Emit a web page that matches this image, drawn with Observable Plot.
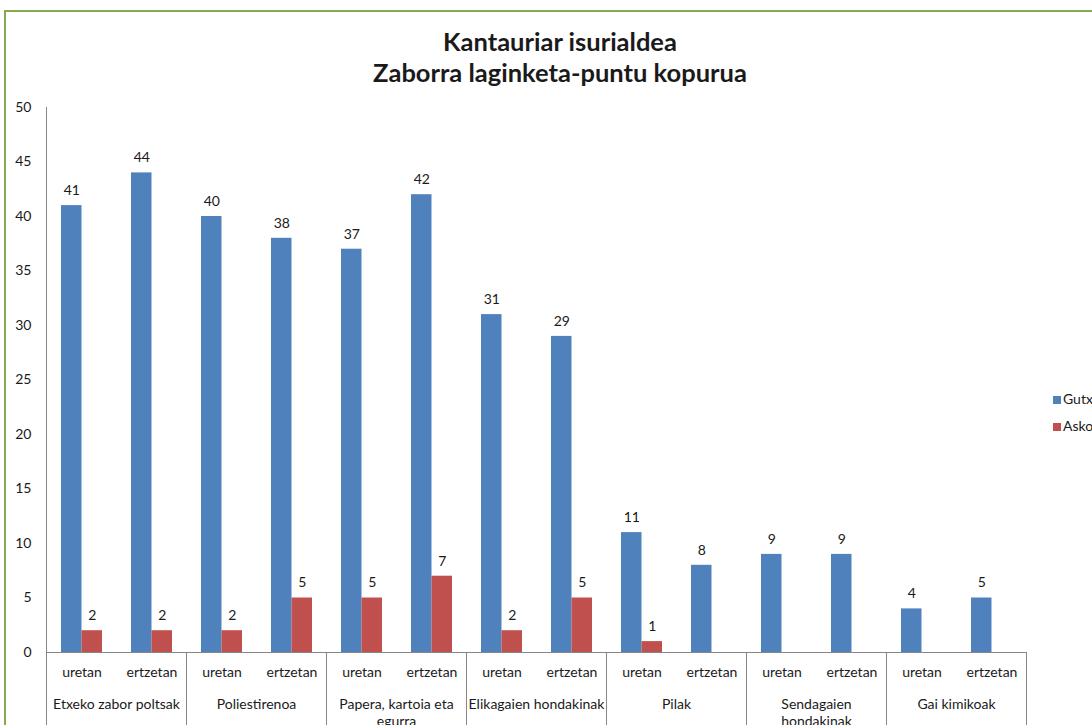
<!DOCTYPE html>
<html>
<head>
<meta charset="utf-8">
<script src="https://cdn.jsdelivr.net/npm/d3@7"></script>
<script src="https://cdn.jsdelivr.net/npm/@observablehq/plot@0.6"></script>
<style>
  html, body { margin: 0; padding: 0; background: #fff; }
  #wrap { position: relative; width: 1092px; height: 725px; overflow: hidden; background: #fff; font-family: Lato, sans-serif; color: #1a1a1a; }
  #border { position: absolute; left: 4px; top: 10px; width: 2000px; height: 2000px; border: 2px solid #86aa4f; box-sizing: border-box; }
  #title { position: absolute; left: 0; width: 1120px; top: 26px; text-align: center; font-weight: 700; font-size: 25.5px; line-height: 31px; }
  #chart { position: absolute; left: 0; top: 0; }
  .leg { position: absolute; left: 1053px; font-size: 14px; white-space: nowrap; line-height: 16px; }
  .leg span { display: inline-block; width: 8px; height: 8px; margin-right: 2px; vertical-align: 0px; }
</style>
</head>
<body>
<div id="wrap">
  <div id="border"></div>
  <div id="chart"></div>
  <div id="title"></div>
  <div id="legend"></div>
</div>
<script>
const chartTitle = ["Kantauriar isurialdea", "Zaborra laginketa-puntu kopurua"];
const groups = ["Etxeko zabor poltsak", "Poliestirenoa", "Papera, kartoia eta egurra", "Elikagaien hondakinak", "Pilak", "Sendagaien hondakinak", "Gai kimikoak"];
const groupLabels = ["Etxeko zabor poltsak", "Poliestirenoa", "Papera, kartoia eta\negurra", "Elikagaien hondakinak", "Pilak", "Sendagaien\nhondakinak", "Gai kimikoak"];
const subs = ["uretan", "ertzetan"];
const seriesNames = ["Gutxi", "Asko"];
const seriesColors = ["#4f81bd", "#c0504d"];
const gutxi = [41, 44, 40, 38, 37, 42, 31, 29, 11, 8, 9, 9, 4, 5];
const asko = [2, 2, 2, 5, 5, 7, 2, 5, 1, 0, 0, 0, 0, 0];
const yTicks = [0, 5, 10, 15, 20, 25, 30, 35, 40, 45, 50];

const rows = gutxi.map((v, i) => ({
  group: groups[Math.floor(i / 2)],
  sub: subs[i % 2],
  gutxi: v,
  asko: asko[i]
}));
const labelOf = new Map(groups.map((g, i) => [g, groupLabels[i]]));

document.getElementById("title").innerHTML = chartTitle.map(t => `<div>${t}</div>`).join("");
document.getElementById("legend").innerHTML = seriesNames.map((s, i) =>
  `<div class="leg" style="top:${391 + i * 27}px"><span style="background:${seriesColors[i]}"></span>${s}</div>`).join("");

const axisGray = "#868686";
const plot = Plot.plot({
  width: 1092,
  height: 725,
  marginLeft: 43,
  marginRight: 64,
  marginTop: 107,
  marginBottom: 73,
  style: { fontFamily: "Lato, sans-serif", fontSize: "14px", color: "#1a1a1a", background: "transparent" },
  fx: { domain: groups, padding: 0, label: null },
  x: { domain: subs, paddingInner: 0.418, paddingOuter: 0.209, label: null },
  y: { domain: [0, 50], label: null },
  marks: [
    Plot.barY(rows, { fx: "group", x: "sub", y: "gutxi", fill: seriesColors[0], insetRight: 20.5 }),
    Plot.barY(rows.filter(d => d.asko > 0), { fx: "group", x: "sub", y: "asko", fill: seriesColors[1], insetLeft: 20.5 }),
    Plot.text(rows.filter(d => d.gutxi > 0), { fx: "group", x: "sub", y: "gutxi", text: d => String(d.gutxi), dx: -10.25, dy: -15, fontSize: 14, fill: "#1a1a1a" }),
    Plot.text(rows.filter(d => d.asko > 0), { fx: "group", x: "sub", y: "asko", text: d => String(d.asko), dx: 10.25, dy: -15, fontSize: 14, fill: "#1a1a1a" }),
    Plot.ruleY([0], { stroke: axisGray }),
    Plot.frame({ anchor: "left", facetAnchor: "left", stroke: axisGray, insetBottom: -73 }),
    Plot.frame({ anchor: "left", stroke: axisGray, insetTop: 545, insetBottom: -73 }),
    Plot.frame({ anchor: "right", stroke: axisGray, insetTop: 545, insetBottom: -73 }),
    Plot.axisY({ ticks: yTicks, tickSize: 0, tickPadding: 15, label: null, fontSize: 14 }),
    Plot.axisX({ tickSize: 0, tickPadding: 15, label: null, fontSize: 14 }),
    Plot.axisFx({ anchor: "bottom", tickSize: 0, tickPadding: 44, label: null, fontSize: 14, lineHeight: 1.25, tickFormat: g => labelOf.get(g) })
  ]
});
document.getElementById("chart").appendChild(plot);
</script>
</body>
</html>
